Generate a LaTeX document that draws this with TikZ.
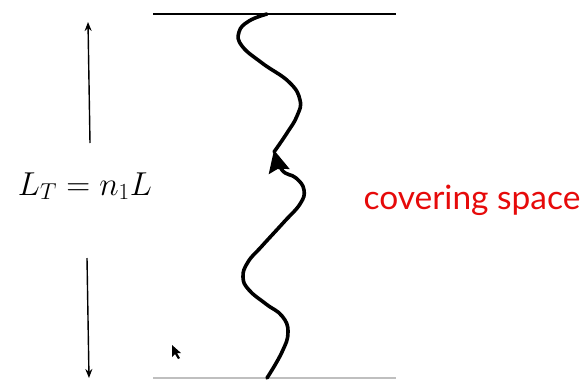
\documentclass[tikz,border=0pt]{standalone}
\usepackage{fontspec}
\newfontfamily\labelfont{Lato}
\usetikzlibrary{arrows.meta}
\definecolor{labelred}{RGB}{230,10,10}
\begin{document}
\begin{tikzpicture}[x=1pt,y=-1pt,
  edge/.style={line width=1.8pt,black},
  gauge/.style={line width=1.4pt,-{Stealth[length=9pt,width=7pt]}},
  wavy/.style={line width=3.6pt,line cap=round,line join=round}]
\useasboundingbox (0,0) rectangle (588,380);
% plates
\coordinate (tl) at (153,14);
\coordinate (tr) at (396,14);
\coordinate (bl) at (153,378);
\coordinate (br) at (396,378);
\draw[edge] (tl) -- (tr);
\draw[line width=1.8pt,black!25] (bl) -- (br);
% length label and arrows
\node[font=\fontsize{24}{28}\selectfont,scale=1.333,anchor=base] (lab) at (85,195) {$L_T = n_1 L$};
\coordinate (ua0) at (90,143);
\coordinate (ua1) at (88,22);
\coordinate (da0) at (87,258);
\coordinate (da1) at (89,378);
\draw[gauge] (ua0) -- (ua1);
\draw[gauge] (da0) -- (da1);
% covering space label
\node[font=\labelfont\fontsize{33.5}{40}\selectfont,text=labelred,anchor=base] (cov) at (472,209) {covering space};
% wavy worldline, lower part with arrow
\draw[wavy,-{Stealth[length=22pt,width=21pt,inset=3pt]}] plot[smooth,tension=0.75] coordinates {
 (267,378) (282,352) (288,332) (282,316) (266,304) (249,290) (243,277) (248,262) (262,246)
 (284,222) (300,204) (304,190) (296,178) (282,170) (274,150)};
% wavy worldline, upper part
\draw[wavy] plot[smooth,tension=0.75] coordinates {
 (274,152) (287,133) (297,116) (300,100) (289,82) (262,63) (242,46) (239,32) (249,21) (267,14)};
% mouse pointer
\fill[black] (172,345) -- (172,357) -- (175,354) -- (178,359) -- (180,358) -- (177,353) -- (181,353) -- cycle;
\end{tikzpicture}
\end{document}
